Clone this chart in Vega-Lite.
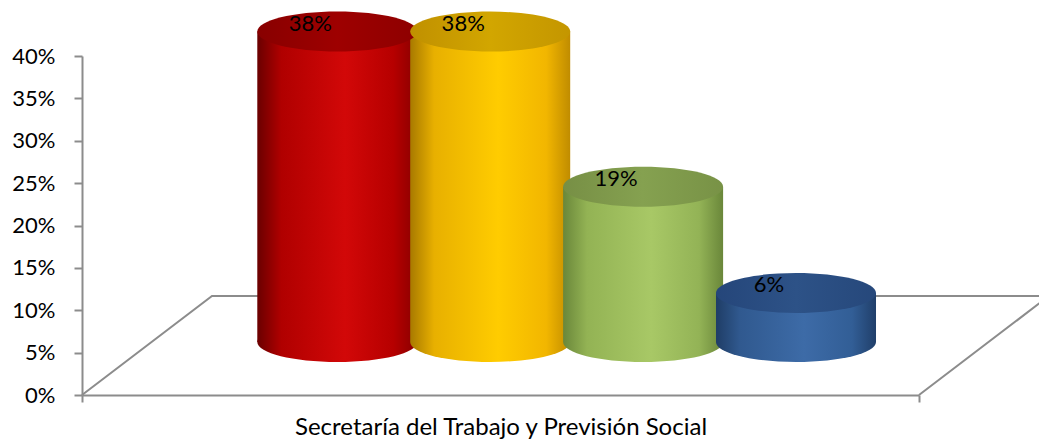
{
  "$schema": "https://vega.github.io/schema/vega-lite/v6.json",
  "width": 837,
  "height": 339,
  "autosize": {"type": "none"},
  "padding": {"left": 82, "top": 56, "right": 120, "bottom": 48},
  "background": "white",
  "config": {"view": {"stroke": null}, "font": "Lato"},
  "data": {"values": [
    {"serie": "Serie 1", "valor": 0.38},
    {"serie": "Serie 2", "valor": 0.38},
    {"serie": "Serie 3", "valor": 0.19},
    {"serie": "Serie 4", "valor": 0.06}
  ]},
  "resolve": {"scale": {"x": "independent", "y": "independent"}},
  "layer": [
    {
      "data": {"values": [
        {"k": 1, "fx": 0, "fy": 0},
        {"k": 2, "fx": 0.1553, "fy": 0.1168},
        {"k": 3, "fx": 1.1553, "fy": 0.1168},
        {"k": 4, "fx": 1, "fy": 0}
      ]},
      "mark": {"type": "line", "color": "#8c8c8c", "strokeWidth": 2, "clip": false},
      "encoding": {
        "x": {"field": "fx", "type": "quantitative",
          "scale": {"domain": [0, 1], "nice": false, "zero": false},
          "axis": {"values": [0, 1], "labels": false, "grid": false, "ticks": true, "tickSize": 7, "tickWidth": 2, "tickColor": "#8c8c8c",
            "domainColor": "#8c8c8c", "domainWidth": 2,
            "title": "Secretaría del Trabajo y Previsión Social", "titleFont": "Lato", "titleFontSize": 24, "titleFontWeight": "normal", "titleColor": "#000000", "titlePadding": 12}},
        "y": {"field": "fy", "type": "quantitative",
          "scale": {"domain": [0, 0.4], "nice": false},
          "axis": {"values": [0, 0.05, 0.1, 0.15, 0.2, 0.25, 0.3, 0.35, 0.4], "format": ".0%", "grid": false, "title": null,
            "tickSize": 8, "tickWidth": 2, "tickColor": "#8c8c8c", "domainColor": "#8c8c8c", "domainWidth": 2,
            "labelFont": "Lato", "labelFontSize": 22, "labelColor": "#000000", "labelPadding": 19}},
        "order": {"field": "k", "type": "quantitative"}
      }
    },
    {
      "encoding": {
        "x": {"field": "serie", "type": "nominal", "axis": null,
          "scale": {"type": "band", "paddingInner": 0, "paddingOuter": 0.737, "align": 0.7935}}
      },
      "layer": [
        {
          "mark": {"type": "point", "shape": "M -1 0 C -1 -0.138 -0.552 -0.25 0 -0.25 C 0.552 -0.25 1 -0.138 1 0 C 1 0.138 0.552 0.25 0 0.25 C -0.552 0.25 -1 0.138 -1 0 Z", "size": 25600, "filled": true, "opacity": 1, "strokeWidth": 0},
          "encoding": {
            "y": {"datum": 0, "type": "quantitative", "axis": null, "scale": {"domain": [-0.0649, 0.3501], "nice": false, "zero": false}},
            "fill": {
              "condition": [
                {"test": "datum.serie === 'Serie 1'", "value": {"gradient": "linear", "x1": 0, "y1": 0, "x2": 1, "y2": 0, "stops": [{"offset": 0, "color": "#6a0000"}, {"offset": 0.15, "color": "#b00000"}, {"offset": 0.55, "color": "#d20808"}, {"offset": 0.85, "color": "#b60000"}, {"offset": 1, "color": "#880000"}]}},
                {"test": "datum.serie === 'Serie 2'", "value": {"gradient": "linear", "x1": 0, "y1": 0, "x2": 1, "y2": 0, "stops": [{"offset": 0, "color": "#a87a00"}, {"offset": 0.15, "color": "#e8b000"}, {"offset": 0.55, "color": "#ffcc00"}, {"offset": 0.85, "color": "#f2b600"}, {"offset": 1, "color": "#c08c00"}]}},
                {"test": "datum.serie === 'Serie 3'", "value": {"gradient": "linear", "x1": 0, "y1": 0, "x2": 1, "y2": 0, "stops": [{"offset": 0, "color": "#6a873a"}, {"offset": 0.15, "color": "#93b354"}, {"offset": 0.55, "color": "#a8c866"}, {"offset": 0.85, "color": "#93b356"}, {"offset": 1, "color": "#6a873a"}]}}
              ],
              "value": {"gradient": "linear", "x1": 0, "y1": 0, "x2": 1, "y2": 0, "stops": [{"offset": 0, "color": "#1f3d66"}, {"offset": 0.15, "color": "#30598f"}, {"offset": 0.55, "color": "#3d6ba7"}, {"offset": 0.85, "color": "#325e96"}, {"offset": 1, "color": "#203f6a"}]}
            }
          }
        },
        {
          "mark": {"type": "bar", "size": 160, "strokeWidth": 0},
          "encoding": {
            "y": {"field": "valor", "type": "quantitative", "axis": null, "scale": {"domain": [-0.0649, 0.3501], "nice": false, "zero": false}},
            "y2": {"datum": 0},
            "fill": {
              "condition": [
                {"test": "datum.serie === 'Serie 1'", "value": {"gradient": "linear", "x1": 0, "y1": 0, "x2": 1, "y2": 0, "stops": [{"offset": 0, "color": "#6a0000"}, {"offset": 0.15, "color": "#b00000"}, {"offset": 0.55, "color": "#d20808"}, {"offset": 0.85, "color": "#b60000"}, {"offset": 1, "color": "#880000"}]}},
                {"test": "datum.serie === 'Serie 2'", "value": {"gradient": "linear", "x1": 0, "y1": 0, "x2": 1, "y2": 0, "stops": [{"offset": 0, "color": "#a87a00"}, {"offset": 0.15, "color": "#e8b000"}, {"offset": 0.55, "color": "#ffcc00"}, {"offset": 0.85, "color": "#f2b600"}, {"offset": 1, "color": "#c08c00"}]}},
                {"test": "datum.serie === 'Serie 3'", "value": {"gradient": "linear", "x1": 0, "y1": 0, "x2": 1, "y2": 0, "stops": [{"offset": 0, "color": "#6a873a"}, {"offset": 0.15, "color": "#93b354"}, {"offset": 0.55, "color": "#a8c866"}, {"offset": 0.85, "color": "#93b356"}, {"offset": 1, "color": "#6a873a"}]}}
              ],
              "value": {"gradient": "linear", "x1": 0, "y1": 0, "x2": 1, "y2": 0, "stops": [{"offset": 0, "color": "#1f3d66"}, {"offset": 0.15, "color": "#30598f"}, {"offset": 0.55, "color": "#3d6ba7"}, {"offset": 0.85, "color": "#325e96"}, {"offset": 1, "color": "#203f6a"}]}
            }
          }
        },
        {
          "mark": {"type": "point", "shape": "M -1 0 C -1 -0.138 -0.552 -0.25 0 -0.25 C 0.552 -0.25 1 -0.138 1 0 C 1 0.138 0.552 0.25 0 0.25 C -0.552 0.25 -1 0.138 -1 0 Z", "size": 25600, "filled": true, "opacity": 1, "strokeWidth": 0},
          "encoding": {
            "y": {"field": "valor", "type": "quantitative", "axis": null, "scale": {"domain": [-0.0649, 0.3501], "nice": false, "zero": false}},
            "fill": {
              "condition": [
                {"test": "datum.serie === 'Serie 1'", "value": {"gradient": "linear", "x1": 0, "y1": 0, "x2": 1, "y2": 0, "stops": [{"offset": 0, "color": "#880000"}, {"offset": 0.5, "color": "#9e0000"}, {"offset": 1, "color": "#8e0000"}]}},
                {"test": "datum.serie === 'Serie 2'", "value": {"gradient": "linear", "x1": 0, "y1": 0, "x2": 1, "y2": 0, "stops": [{"offset": 0, "color": "#c09000"}, {"offset": 0.5, "color": "#d2a600"}, {"offset": 1, "color": "#c49600"}]}},
                {"test": "datum.serie === 'Serie 3'", "value": {"gradient": "linear", "x1": 0, "y1": 0, "x2": 1, "y2": 0, "stops": [{"offset": 0, "color": "#778f45"}, {"offset": 0.5, "color": "#85a150"}, {"offset": 1, "color": "#789246"}]}}
              ],
              "value": {"gradient": "linear", "x1": 0, "y1": 0, "x2": 1, "y2": 0, "stops": [{"offset": 0, "color": "#25467a"}, {"offset": 0.5, "color": "#2d5287"}, {"offset": 1, "color": "#26487b"}]}
            }
          }
        },
        {
          "mark": {"type": "text", "dx": -27, "dy": -8, "font": "Lato", "fontSize": 22, "color": "#000000", "align": "center", "baseline": "middle"},
          "encoding": {
            "y": {"field": "valor", "type": "quantitative", "axis": null, "scale": {"domain": [-0.0649, 0.3501], "nice": false, "zero": false}},
            "text": {"field": "valor", "type": "quantitative", "format": ".0%"}
          }
        }
      ]
    }
  ]
}
